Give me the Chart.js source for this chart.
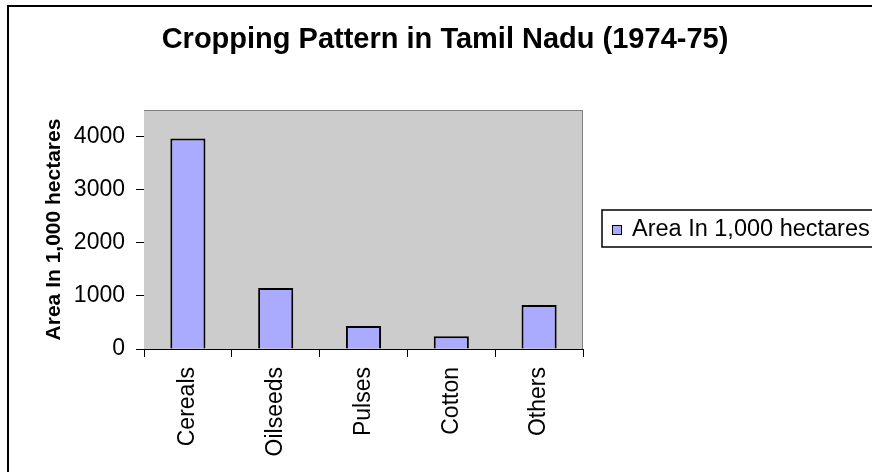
<!DOCTYPE html>
<html lang="en">
<head>
  <meta charset="UTF-8" />
  <title>Cropping Pattern in Tamil Nadu (1974-75)</title>
  <script src="https://cdn.jsdelivr.net/npm/chart.js"></script>
  <style>
    body { margin: 0; background: #fff; }
  </style>
</head>
<body>
  <canvas id="grafico" width="872" height="472"></canvas>

  <script>
    const categories = ['Cereals', 'Oilseeds', 'Pulses', 'Cotton', 'Others'];
    const areas = [3965, 1150, 435, 240, 830];
    const yTicks = [0, 1000, 2000, 3000, 4000];
    const seriesLabel = 'Area In 1,000 hectares';
    const chartTitle = 'Cropping Pattern in Tamil Nadu (1974-75)';
    const yTitle = 'Area In 1,000 hectares';

    const FONT = '"Liberation Sans", Arial, sans-serif';
    const barColor = '#aaaaff';

    // frame, plot background, title and legend (Excel style)
    const excelLook = {
      id: 'excelLook',
      beforeDatasetsDraw(chart) {
        const { ctx, chartArea: a } = chart;
        ctx.save();
        ctx.fillStyle = '#cccccc';
        ctx.fillRect(a.left, a.top, a.right - a.left, a.bottom - a.top);
        ctx.strokeStyle = '#808080';
        ctx.lineWidth = 1;
        ctx.beginPath();
        ctx.moveTo(a.left, a.top + 0.5);
        ctx.lineTo(a.right - 0.5, a.top + 0.5);
        ctx.lineTo(a.right - 0.5, a.bottom);
        ctx.stroke();
        ctx.restore();
      },
      afterDraw(chart) {
        const { ctx } = chart;
        ctx.save();
        // outer border
        ctx.strokeStyle = '#000';
        ctx.lineWidth = 2;
        ctx.strokeRect(8, 6, 900, 500);

        // title
        ctx.fillStyle = '#000';
        ctx.font = 'bold 29px ' + FONT;
        ctx.textAlign = 'center';
        ctx.textBaseline = 'middle';
        ctx.fillText(chartTitle, 445, 40);

        // legend
        const ds = chart.data.datasets[0];
        ctx.lineWidth = 1.5;
        ctx.strokeRect(602, 210, 300, 37);
        ctx.fillStyle = ds.backgroundColor;
        ctx.fillRect(612, 225, 9, 9);
        ctx.lineWidth = 1;
        ctx.strokeRect(612.5, 225.5, 9, 9);
        ctx.fillStyle = '#000';
        ctx.font = '23.5px ' + FONT;
        ctx.textAlign = 'left';
        ctx.fillText(ds.label, 632, 230);
        ctx.restore();
      }
    };

    new Chart(document.getElementById('grafico'), {
      type: 'bar',
      data: {
        labels: categories,
        datasets: [{
          label: seriesLabel,
          data: areas,
          backgroundColor: barColor,
          borderColor: '#000',
          borderWidth: 2,
          barPercentage: 0.4,
          categoryPercentage: 1.0
        }]
      },
      options: {
        responsive: false,
        animation: false,
        layout: { padding: { left: 0, top: 110, right: 289, bottom: 0 } },
        plugins: {
          legend: { display: false },
          title: { display: false },
          tooltip: { enabled: false }
        },
        scales: {
          x: {
            afterFit(scale) { scale.height = 123; },
            grid: { drawOnChartArea: false, drawTicks: true, tickLength: 8, color: '#000' },
            border: { display: true, color: '#000', width: 1 },
            ticks: {
              minRotation: 90,
              maxRotation: 90,
              padding: 10,
              color: '#000',
              font: { family: FONT, size: 23 }
            }
          },
          y: {
            min: 0,
            max: 4500,
            afterFit(scale) { scale.width = 144; },
            afterBuildTicks(scale) { scale.ticks = yTicks.map(v => ({ value: v })); },
            grid: { drawOnChartArea: false, drawTicks: true, tickLength: 8, color: '#000' },
            border: { display: true, color: '#000', width: 1 },
            ticks: {
              padding: 11,
              color: '#000',
              font: { family: FONT, size: 23 },
              callback: v => String(v)
            },
            title: {
              display: true,
              text: yTitle,
              color: '#000',
              padding: { top: 42, bottom: 0 },
              font: { family: FONT, size: 21, weight: 'bold' }
            }
          }
        }
      },
      plugins: [excelLook]
    });
  </script>
</body>
</html>
